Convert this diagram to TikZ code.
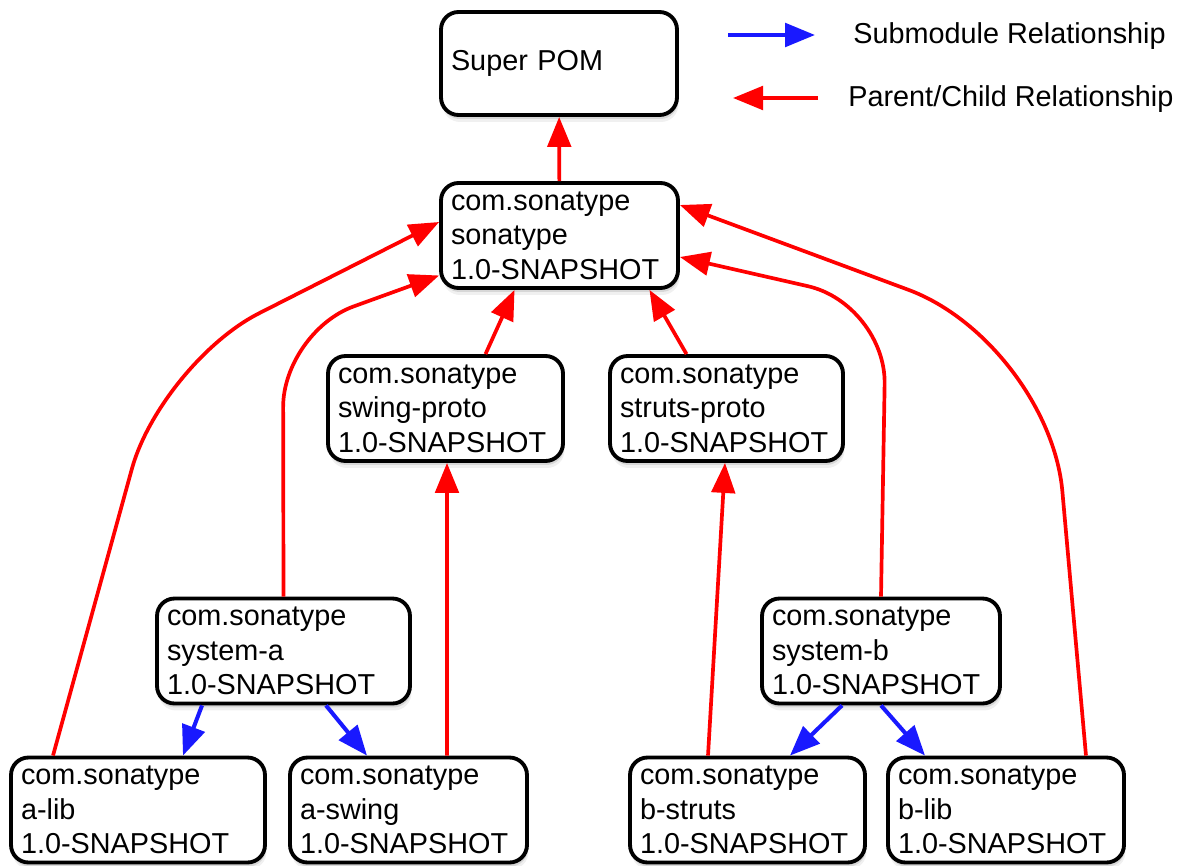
\documentclass[tikz,border=0pt]{standalone}
\usepackage{fontspec}
\setmainfont{Liberation Sans}
\usetikzlibrary{arrows.meta}
\usetikzlibrary{shadows}
\tikzset{pom/.style = {draw, line width = 2.2pt, rounded corners = 0.35cm, fill = white, align = left, text width = #1, inner xsep = 0.2cm, inner ysep = 2pt, minimum height = 2.1cm, font = \fontsize{16.4}{19.6}\selectfont, drop shadow = {shadow xshift = 0.03cm, shadow yshift = -0.14cm, opacity = 0.12}, drop shadow = {shadow xshift = 0.02cm, shadow yshift = -0.08cm, opacity = 0.22}}, pom/.default = 4.3cm}
\tikzset{parent/.style = {pcred, line width = 2.1pt, -{Triangle[length = 0.6cm, width = 0.47cm]}}}
\tikzset{submod/.style = {subblue, line width = 2.3pt, -{Triangle[length = 0.6cm, width = 0.47cm]}}}
\tikzset{legend/.style = {anchor = west, inner sep = 0, font = \fontsize{16.4}{19.6}\selectfont}}
\definecolor{pcred}{rgb}{1, 0, 0}
\definecolor{subblue}{rgb}{0.1, 0.1, 1}

\begin{document}
\begin{tikzpicture}[x = 0.02cm, y = -0.02cm]
    \useasboundingbox (0, 0) rectangle (1179, 865);

    \node [pom = 4.32cm, minimum height = 2.06cm] (super) at (559, 63.5) {Super POM};
    \node [pom = 4.34cm] (sonatype) at (559.5, 235.5) {com.sonatype\\sonatype\\1.0-SNAPSHOT};
    \node [pom] (swingproto) at (445.5, 408.5) {com.sonatype\\swing-proto\\1.0-SNAPSHOT};
    \node [pom = 4.26cm] (strutsproto) at (726.5, 408.5) {com.sonatype\\struts-proto\\1.0-SNAPSHOT};
    \node [pom = 4.66cm] (systema) at (283.5, 651) {com.sonatype\\system-a\\1.0-SNAPSHOT};
    \node [pom = 4.36cm] (systemb) at (881, 651) {com.sonatype\\system-b\\1.0-SNAPSHOT};
    \node [pom = 4.68cm] (alib) at (138, 810) {com.sonatype\\a-lib\\1.0-SNAPSHOT};
    \node [pom = 4.34cm] (aswing) at (408.5, 810) {com.sonatype\\a-swing\\1.0-SNAPSHOT};
    \node [pom] (bstruts) at (747.5, 810) {com.sonatype\\b-struts\\1.0-SNAPSHOT};
    \node [pom = 4.32cm] (blib) at (1006, 810) {com.sonatype\\b-lib\\1.0-SNAPSHOT};

    \coordinate (bendalib) at (161, 363);
    \coordinate (bendsystema) at (283, 332);
    \coordinate (bendsystemb) at (886, 304);
    \coordinate (bendblib) at (1049, 342);

    \draw [parent] (sonatype) -- (super);
    \draw [parent] ([xshift = 0.8cm]swingproto.north) -- ([xshift = -0.9cm]sonatype.south);
    \draw [parent] ([xshift = -0.8cm]strutsproto.north) -- ([xshift = 1.8cm]sonatype.south);
    \draw [parent] ([xshift = 0.77cm]aswing.north) -- ([xshift = 0.03cm]swingproto.south);
    \draw [parent] ([xshift = -0.79cm]bstruts.north) -- ([xshift = -0.03cm]strutsproto.south);
    \draw [parent, rounded corners = 2.2cm] ([xshift = -1.7cm]alib.north) -- (bendalib) -- ([yshift = 0.27cm]sonatype.west);
    \draw [parent, rounded corners = 1.5cm] (systema.north) -- (bendsystema) -- ([yshift = -0.8cm]sonatype.west);
    \draw [parent, rounded corners = 1.6cm] (systemb.north) -- (bendsystemb) -- ([yshift = -0.43cm]sonatype.east);
    \draw [parent, rounded corners = 3cm] ([xshift = 1.6cm]blib.north) -- (bendblib) -- ([yshift = 0.61cm]sonatype.east);

    \draw [submod] ([xshift = -1.63cm]systema.south) -- ([xshift = 0.9cm]alib.north);
    \draw [submod] ([xshift = 0.85cm]systema.south) -- ([xshift = -0.83cm]aswing.north);
    \draw [submod] ([xshift = -0.78cm]systemb.south) -- ([xshift = 0.85cm]bstruts.north);
    \draw [submod] (systemb.south) -- ([xshift = -1.62cm]blib.north);

    \coordinate (subtail) at (728, 35);
    \coordinate (subhead) at (815, 35);
    \coordinate (pctail) at (818, 98);
    \coordinate (pchead) at (733, 98);
    \draw [submod] (subtail) -- (subhead);
    \draw [parent] (pctail) -- (pchead);
    \node [legend] (sublabel) at (853, 36) {Submodule Relationship};
    \node [legend] (pclabel) at (848, 99) {Parent/Child Relationship};
  \end{tikzpicture}
\end{document}
